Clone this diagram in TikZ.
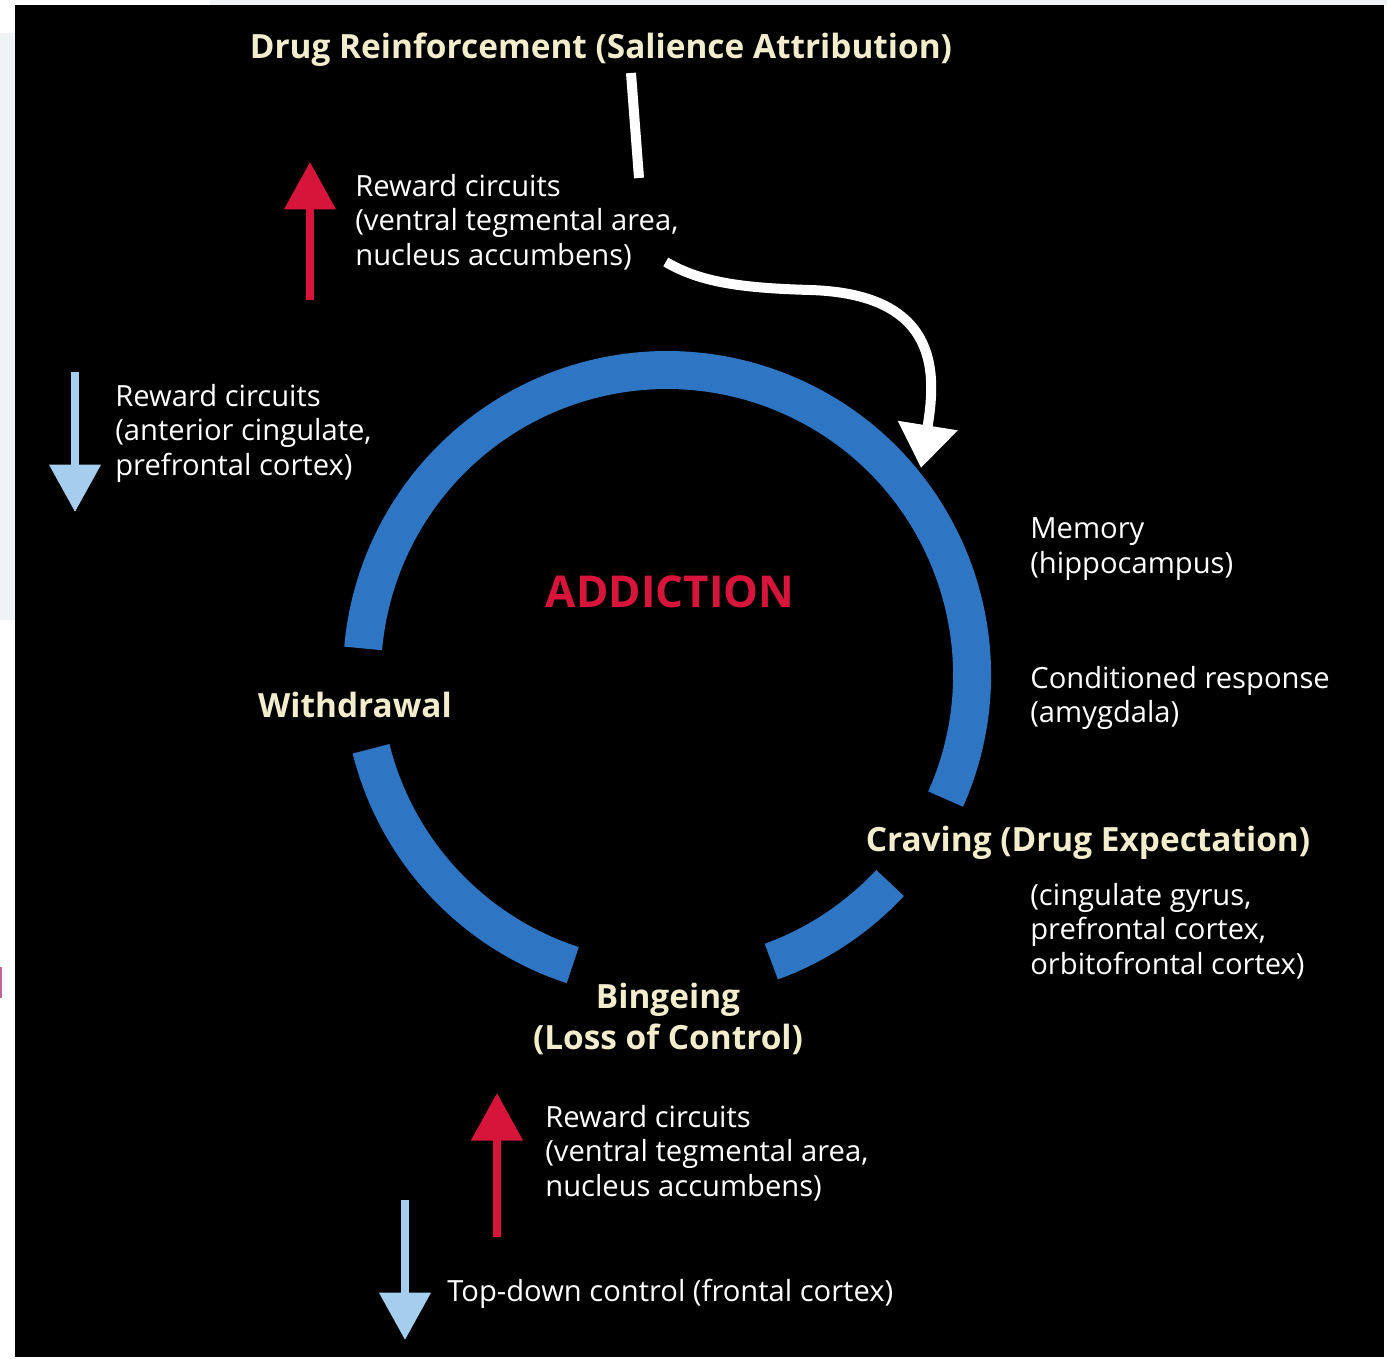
\documentclass[tikz,border=0pt]{standalone}
\usepackage{fontspec}
\setmainfont{Open Sans}
\usetikzlibrary{arrows.meta,positioning,calc}

\definecolor{ringblue}{RGB}{46,117,196}
\definecolor{addred}{RGB}{215,20,58}
\definecolor{downblue}{RGB}{165,205,238}
\definecolor{headcream}{RGB}{242,238,205}
\definecolor{edgegray}{RGB}{238,244,246}

\begin{document}
\begin{tikzpicture}[x=0.02cm, y=-0.02cm,
    ring/.style={draw=ringblue, line width=0.76cm},
    head/.style={text=headcream, font=\fontsize{19}{23.3}\selectfont\bfseries},
    note/.style={text=white, font=\fontsize{16.6}{19.6}\selectfont, align=left, anchor=west, inner sep=0pt},
    uparrow/.style={draw=addred, line width=0.16cm, -{Triangle[width=1cm,length=0.95cm]}},
    downarrow/.style={draw=downblue, line width=0.16cm, -{Triangle[width=1cm,length=0.95cm]}},
    feed/.style={draw=white, line width=0.2cm}]
    \useasboundingbox (0,0) rectangle (1387,1359);

    % page and dark panel
    \fill[white] (0,0) rectangle (1387,1359);
    \fill[edgegray] (0,33) rectangle (15,620);
    \fill[edgegray] (210,0) rectangle (1387,5);
    \fill[black] (15,5) rectangle (1384,1357);
    \fill[magenta!50!gray] (0,967) rectangle (2,998);

    % the cycle
    \coordinate (hub) at (667,675);
    \draw[ring] (hub) ++(24:305) arc[start angle=24, end angle=-175, radius=305];
    \draw[ring] (hub) ++(-194:305) arc[start angle=-194, end angle=-252, radius=305];
    \draw[ring] (hub) ++(70:305) arc[start angle=70, end angle=43, radius=305];

    \node[head] (title) at (601,50) {Drug Reinforcement (Salience Attribution)};
    \node[note] (rwtop) at (355,222) {Reward circuits\\(ventral tegmental area,\\nucleus accumbens)};
    \node[note] (rwleft) at (115,433) {Reward circuits\\(anterior cingulate,\\prefrontal cortex)};
    \node[text=addred, font=\fontsize{25}{30}\selectfont\bfseries] (addiction) at (670,592) {ADDICTION};
    \node[head] (withdrawal) at (355,705) {Withdrawal};
    \node[note] (memory) at (1030,549) {Memory\\(hippocampus)};
    \node[note] (conditioned) at (1030,698) {Conditioned response\\(amygdala)};
    \node[head] (craving) at (1088,843) {Craving (Drug Expectation)};
    \node[note] (cravingsub) at (1030,931) {(cingulate gyrus,\\prefrontal cortex,\\orbitofrontal cortex)};
    \node[head, align=center] (bingeing) at (668,1019) {Bingeing\\(Loss of Control)};
    \node[note] (rwbottom) at (545,1153) {Reward circuits\\(ventral tegmental area,\\nucleus accumbens)};
    \node[note] (topdown) at (447,1294) {Top-down control (frontal cortex)};

    % up / down markers
    \coordinate (upA) at (310,300);
    \coordinate (downA) at (75,372);
    \coordinate (upB) at (497,1237);
    \coordinate (downB) at (405,1200);
    \draw[uparrow] (upA) -- ++(0,-138);
    \draw[downarrow] (downA) -- ++(0,140);
    \draw[uparrow] (upB) -- ++(0,-144);
    \draw[downarrow] (downB) -- ++(0,140);

    % reinforcement feeds into the cycle
    \coordinate (feedend) at (639,178);
    \coordinate (arcin) at (921,468);
    \draw[feed] ([xshift=0.6cm]title.south) -- (feedend);
    \draw[feed, -{Triangle[width=1.16cm,length=0.86cm]}] ([shift={(-0.26cm,-0.8cm)}]rwtop.east)
        .. controls (700,282) and (740,288) .. (810,290)
        .. controls (945,294) and (935,380) .. (arcin);
\end{tikzpicture}
\end{document}
